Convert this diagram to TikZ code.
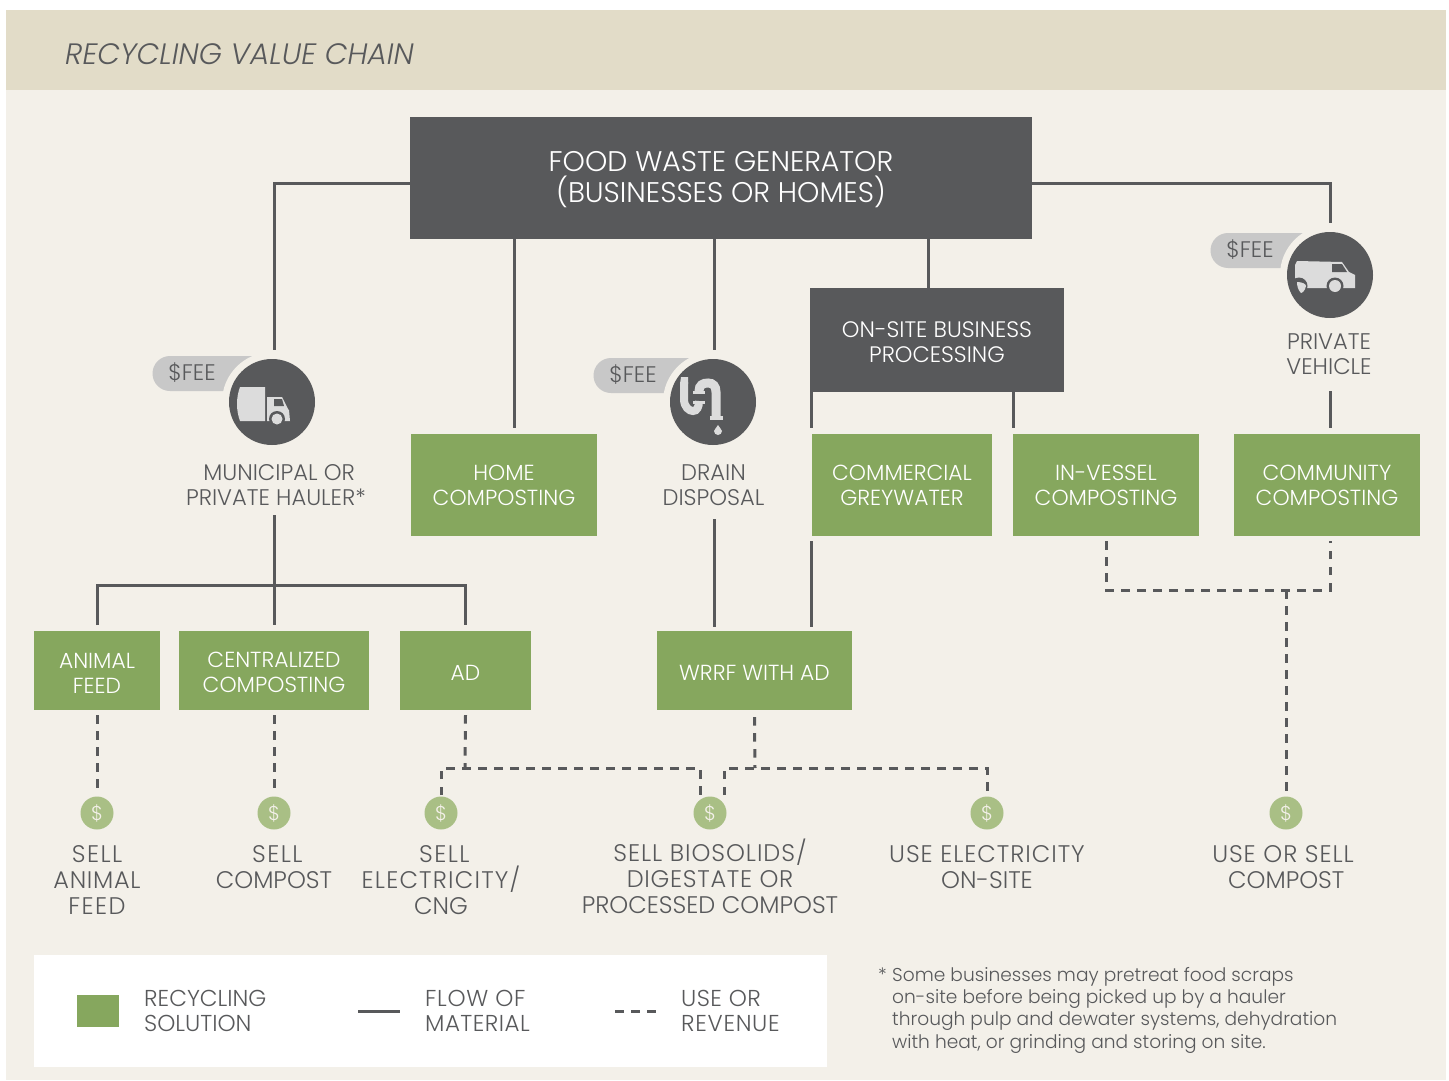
\documentclass[tikz,border=0pt]{standalone}
\usepackage{fontspec}
\setmainfont{Poppins}[UprightFont=* Light,ItalicFont=* Light Italic,BoldFont=*]
\definecolor{band}{HTML}{E2DCC8}
\definecolor{paper}{HTML}{F3F0E9}
\definecolor{dark}{HTML}{58595B}
\definecolor{grn}{HTML}{86A75E}
\definecolor{lgrn}{HTML}{A9BF85}
\definecolor{pill}{HTML}{C8C8C8}
\definecolor{icon}{HTML}{DCDCDC}
\tikzset{
 x=1pt,y=-1pt,
 flow/.style={draw=dark,line width=3pt},
 rev/.style={draw=dark,line width=3pt,dash pattern=on 8.5pt off 7.5pt},
 solution/.style={fill=grn,text=white,align=center,inner sep=0pt,font=\fontsize{21.8}{25}\selectfont},
 darkbox/.style={fill=dark,text=white,align=center,inner sep=0pt},
 caption/.style={text=dark,align=center,inner sep=0pt,font=\fontsize{22.6}{25}\selectfont},
 outcome/.style={text=dark,align=center,inner sep=0pt,font=\fontsize{24}{26}\selectfont},
 coin/.style={circle,fill=lgrn,minimum size=33pt,inner sep=0pt,text=paper,font=\fontsize{20}{20}\selectfont},
 disc/.style={circle,fill=dark,minimum size=86pt,inner sep=0pt},
 feelabel/.style={text=dark,inner sep=0pt,font=\fontsize{22.5}{23}\selectfont},
 legend/.style={text=dark,align=left,inner sep=0pt,anchor=west,font=\fontsize{23}{25}\selectfont},
}
\newcommand{\lift}[1]{\rule{0pt}{#1pt}}
\newcommand{\ls}[2]{{\addfontfeature{LetterSpace=#1}#2}}
\newcommand{\feepill}[3]{% disc centre x, y, top of pill
 \fill[pill] (#1-5,#3) -- (#1-102,#3) arc[start angle=270,end angle=90,radius=17.5] -- (#1-5,#3+35) -- cycle;
 \fill[paper] (#1,#2) circle[radius=50];
}
\begin{document}
\begin{tikzpicture}
\useasboundingbox (0,0) rectangle (1449,1081);
\fill[white] (0,0) rectangle (1449,1081);
\fill[paper] (6,90) rectangle (1446,1080);
\fill[band] (6,10) rectangle (1446,90);
\node[anchor=west,text=dark,inner sep=0pt,font=\fontsize{29.5}{30}\selectfont\itshape] (title) at (65,54) {RECYCLING VALUE CHAIN};

% boxes
\node[darkbox,minimum width=622pt,minimum height=122pt,font=\fontsize{28.4}{31}\selectfont] (gen) at (721,178) {\lift{23}FOOD WASTE GENERATOR\\(BUSINESSES OR HOMES)};
\node[darkbox,minimum width=254pt,minimum height=104pt,font=\fontsize{22.4}{25}\selectfont] (onsite) at (937,340) {\lift{20}ON-SITE BUSINESS\\PROCESSING};
\node[solution,minimum width=186pt,minimum height=102pt] (home) at (504,484.5) {\lift{17}HOME\\COMPOSTING};
\node[solution,minimum width=180pt,minimum height=102pt] (grey) at (902,484.5) {\lift{17}COMMERCIAL\\GREYWATER};
\node[solution,minimum width=186pt,minimum height=102pt] (vessel) at (1106,484.5) {\lift{17}IN-VESSEL\\COMPOSTING};
\node[solution,minimum width=186pt,minimum height=102pt] (comm) at (1327,484.5) {\lift{17}COMMUNITY\\COMPOSTING};
\node[solution,minimum width=126pt,minimum height=79pt] (feed) at (97,670.5) {\lift{20}ANIMAL\\FEED};
\node[solution,minimum width=190pt,minimum height=79pt] (central) at (274,670.5) {\lift{20}CENTRALIZED\\COMPOSTING};
\node[solution,minimum width=131pt,minimum height=79pt] (ad) at (465.5,670.5) {\lift{20}AD};
\node[solution,minimum width=195pt,minimum height=79pt] (wrrf) at (754.5,670.5) {\lift{20}WRRF WITH AD};

% fee discs
\feepill{272}{402}{356}
\feepill{713}{402}{358}
\feepill{1330}{275}{233}
\node[disc] (haul) at (272,402) {};
\node[disc] (drain) at (713,402) {};
\node[disc] (van) at (1330,275) {};
\node[feelabel] (fee1) at (192,373) {\$FEE};
\node[feelabel] (fee2) at (633,375) {\$FEE};
\node[feelabel] (fee3) at (1250,250) {\$FEE};

% truck icon
\begin{scope}[shift={(272,402)}]
 \fill[icon] (-32,-15) -- (-7,-15) -- (-7,19) -- (-32,19) .. controls (-36,8) and (-36,-4) .. cycle;
 \fill[icon] (-5,-5) -- (10,-5) -- (16,7) -- (17,8) -- (18,19) -- (-5,19) -- cycle;
 \fill[dark] (2,-3) -- (10,-3) -- (12,4) -- (2,4) -- cycle;
 \fill[dark] (5,17) circle[radius=8];
 \fill[icon] (5,17) circle[radius=5.5];
\end{scope}
% drain icon
\begin{scope}[shift={(713,402)}]
 \draw[icon,line width=8pt] (-29,-20) -- (-29,-3) .. controls (-29,5) and (-24,9) .. (-20,9) .. controls (-16,9) and (-14,5) .. (-14,-1);
 \draw[icon,line width=9pt] (-14,-10) -- (-14,-11) .. controls (-14,-17) and (-10,-19) .. (-5,-19) .. controls (0,-19) and (3,-16) .. (3,-10) -- (3,14);
 \fill[icon] (-32,-25) -- (-25,-25) -- (-25,-18) -- (-33,-18) -- cycle;
 \fill[icon] (-20,-1) rectangle (-8,2);
 \fill[icon] (-20,-11) rectangle (-8,-8);
 \fill[icon] (-3,14) rectangle (10,18);
 \fill[icon] (5,23) .. controls (6,26) and (9,27) .. (9,29) arc[start angle=0,end angle=180,radius=4] .. controls (1,27) and (4,26) .. (5,23) -- cycle;
\end{scope}
% van icon
\begin{scope}[shift={(1330,275)}]
 \fill[icon] (-33,-14) -- (12,-13) -- (19,-3) -- (25,0) -- (25,13) -- (-30,13) .. controls (-34,10) and (-35,5) .. (-35,0) -- (-35,-10) -- cycle;
 \fill[dark] (2,-11) -- (12,-11) -- (17,-3) -- (2,-3) -- cycle;
 \fill[dark] (-31,11) circle[radius=8.5];
 \fill[icon] (-33,7) .. controls (-28,7) and (-24,9) .. (-24,11) .. controls (-25,16) and (-28,18) .. (-29,18) .. controls (-32,15) and (-33,11) .. cycle;
 \fill[dark] (5,11) circle[radius=8.5];
 \fill[icon] (5,11) circle[radius=6];
\end{scope}

% captions
\node[caption] (muni) at (276,485) {\ MUNICIPAL OR\\PRIVATE HAULER*};
\node[caption] (dd) at (713.5,485) {DRAIN\\DISPOSAL};
\node[caption] (pv) at (1329,354) {PRIVATE\\VEHICLE};
\coordinate (muniB) at (274,515);
\coordinate (ddB) at (714,519);

% coins and outcomes
\node[coin] (c1) at (97,813) {\$};
\node[coin] (c2) at (274,813) {\$};
\node[coin] (c3) at (441,813) {\$};
\node[coin] (c4) at (710,813) {\$};
\node[coin] (c5) at (987,813) {\$};
\node[coin] (c6) at (1286,813) {\$};
\node[outcome] (o1) at (97,880) {\ls{6}{SELL}\\\ls{3}{ANIMAL}\\\ls{6}{FEED}};
\node[outcome] (o2) at (274,867) {\ \ls{6}{SELL}\\COMPOST};
\node[outcome] (o3) at (441,880) {\ \ls{6}{SELL}\\\ls{5}{ELECTRICITY/}\\CNG};
\node[outcome] (o4) at (710,876) {\ls{4}{SELL BIOSOLIDS/}\\\ls{3}{DIGESTATE OR}\\PROCESSED COMPOST};
\node[outcome] (o5) at (987,867) {\ls{4}{USE ELECTRICITY}\\ON-SITE};
\node[outcome] (o6) at (1283,867) {\ls{4}{USE OR SELL}\\\ COMPOST};

% solid connectors
\draw[flow] (gen.west|-0,183) -- (274,183) -- (274,350);
\draw[flow] (gen.south-|514,0) -- (514,428);
\draw[flow] (gen.south-|714,0) -- (714,350);
\draw[flow] (gen.south-|928,0) -- (onsite.north-|928,0);
\draw[flow] (gen.east|-0,183) -- (1330,183) -- (1330,223);
\draw[flow] (onsite.south-|811,0) -- (811,428);
\draw[flow] (onsite.south-|1013,0) -- (1013,428);
\draw[flow] (1330,391) -- (1330,428);
\draw[flow] (muniB) -- (274,625);
\draw[flow] (97,625) -- (97,585) -- (465,585) -- (465,625);
\draw[flow] (ddB) -- (714,627);
\draw[flow] (811,541) -- (811,627);

% dashed connectors
\draw[rev] (feed.south) ++(0,5) -- (97,790);
\draw[rev] (central.south) ++(0,5) -- (274,790);
\draw[rev] (ad.south) ++(0,5) -- (465,768);
\draw[rev] (441,795) -- (441,768) -- (700,768) -- (700,795);
\draw[rev] (wrrf.south) ++(0,7) -- (755,768);
\draw[rev] (724,795) -- (724,768) -- (987,768) -- (987,795);
\draw[rev] (1106,541) -- (1106,590) -- (1330,590) -- (1330,541);
\draw[rev] (1286,590) -- (1286,795);

% legend
\fill[white] (34,955) rectangle (827,1067);
\fill[grn] (77,995) rectangle (119,1027);
\node[legend] (l1) at (144,1011) {RECYCLING\\SOLUTION};
\draw[flow] (358,1011) -- (400,1011);
\node[legend] (l2) at (425,1011) {\ls{3}{FLOW OF}\\\ls{2}{MATERIAL}};
\draw[rev] (615,1011) -- (657,1011);
\node[legend] (l3) at (681,1011) {\ls{2}{USE OR}\\\ls{3}{REVENUE}};
\node[text=dark,anchor=north west,align=left,inner sep=0pt,font=\fontsize{18.6}{22.3}\selectfont] (note) at (878,967) {\makebox[14pt][l]{*}Some businesses may pretreat food scraps\\\hspace*{14pt}on-site before being picked up by a hauler\\\hspace*{14pt}through pulp and dewater systems, dehydration\\\hspace*{14pt}with heat, or grinding and storing on site.};
\end{tikzpicture}
\end{document}
